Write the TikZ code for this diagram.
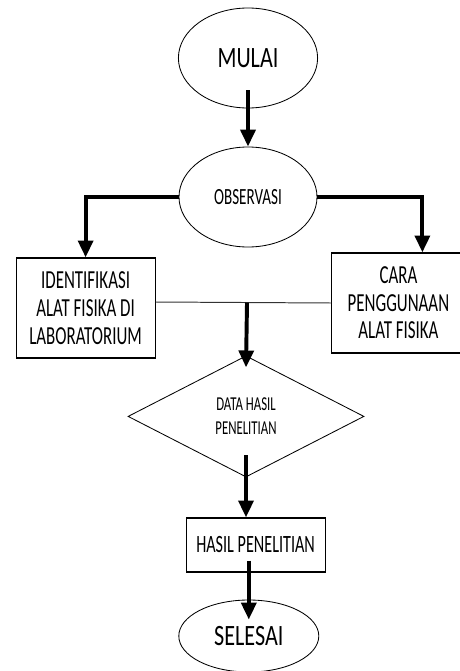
\documentclass[tikz,border=0pt]{standalone}
\usepackage{fontspec}
\setmainfont{Carlito}[FakeStretch=0.65]
\newfontfamily\termfont{Carlito}[FakeStretch=0.75]
\usetikzlibrary{shapes.geometric,arrows.meta}
\begin{document}
\begin{tikzpicture}[
    term/.style={ellipse,draw,line width=0.6pt,minimum width=3.48cm,minimum height=2.5cm,inner sep=0pt},
    box/.style={rectangle,draw,line width=0.8pt,align=center,inner sep=0pt},
    arr/.style={->,line width=2.8pt},
    >={Triangle[length=12pt,width=10.5pt]}]
    \useasboundingbox (0,0) rectangle (11.5,-16.775);
    \node[term,font=\termfont\fontsize{21}{24}\selectfont] (mulai) at (6.2,-1.45) {MULAI};
    \node[term,minimum width=3.45cm,font=\fontsize{16.5}{19}\selectfont] (obs) at (6.2,-4.925) {OBSERVASI};
    \node[box,minimum width=3.475cm,minimum height=2.5cm,font=\fontsize{18.5}{20}\selectfont] (alat) at (2.14,-7.7) {IDENTIFIKASI\\ALAT FISIKA DI\\LABORATORIUM};
    \node[box,minimum width=3.325cm,minimum height=2.5cm,font=\fontsize{18.5}{19.6}\selectfont] (cara) at (9.96,-7.575) {CARA\\PENGGUNAAN\\ALAT FISIKA};
    \node[diamond,draw,line width=0.6pt,minimum width=5.9cm,minimum height=3.03cm,inner sep=0pt,align=center,font=\fontsize{14}{17.3}\selectfont] (data) at (6.15,-10.41) {DATA HASIL\\PENELITIAN};
    \node[box,minimum width=3.475cm,minimum height=1.35cm,font=\fontsize{17.7}{20}\selectfont] (hasil) at (6.39,-13.625) {HASIL PENELITIAN};
    \node[term,minimum width=3.5cm,minimum height=1.8cm,font=\termfont\fontsize{21}{24}\selectfont] (selesai) at (6.22,-15.9) {SELESAI};
    \draw[arr] (mulai.south) ++(0,0.45) -- (obs.north);
    \draw[arr] (obs.west) -| (alat.north);
    \draw[arr] (obs.east) -| ([xshift=0.6cm]cara.north);
    \draw[line width=0.7pt,black!80] ([yshift=0.15cm]alat.east) -- (cara.west) coordinate[pos=0.52] (join);
    \draw[arr] (join) -- ([yshift=-0.3cm]data.north);
    \draw[arr] (data.south) ++(0,0.55) -- (data.south |- hasil.north);
    \draw[arr] (hasil.south -| selesai.north) ++(0,0.3) -- ([yshift=-0.5cm]selesai.north);
\end{tikzpicture}
\end{document}
